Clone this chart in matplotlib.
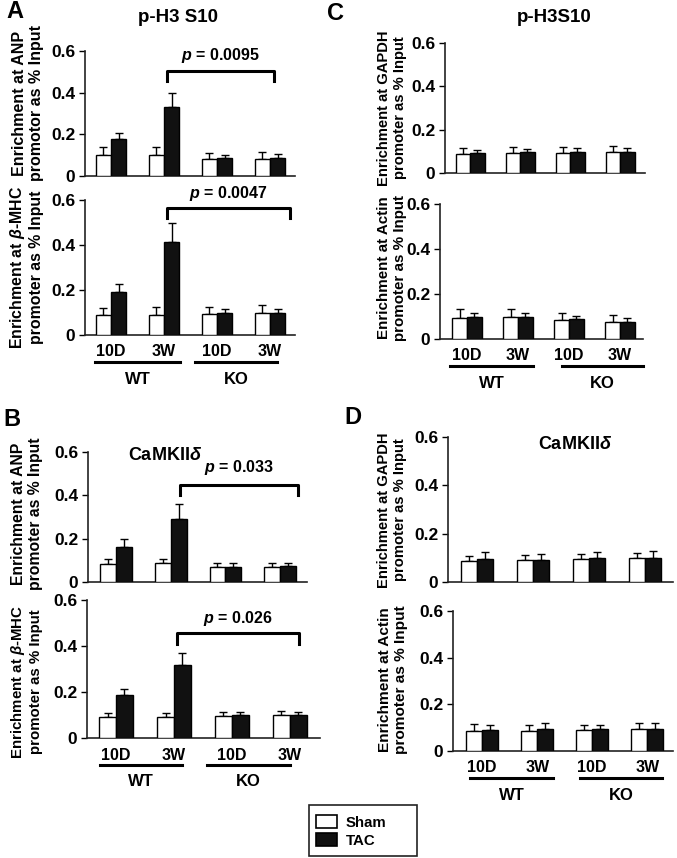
import matplotlib
matplotlib.use("Agg")
import matplotlib.pyplot as plt
import numpy as np
from matplotlib.patches import Patch, Rectangle
from matplotlib.transforms import offset_copy

plt.rcParams['font.family'] = ['Liberation Sans', 'DejaVu Sans']
plt.rcParams['font.weight'] = 'bold'
plt.rcParams['mathtext.fontset'] = 'custom'
plt.rcParams['mathtext.rm'] = 'Liberation Sans:bold'
plt.rcParams['mathtext.it'] = 'Liberation Sans:italic:bold'
plt.rcParams['mathtext.bf'] = 'Liberation Sans:bold'

# groups along the x axis
time_labels = ['10D', '3W', '10D', '3W']
genotypes = ['WT', 'KO']

# panel A, p-H3 S10
a_anp_sham = [0.100, 0.100, 0.080, 0.082]
a_anp_sham_err = [0.037, 0.040, 0.029, 0.032]
a_anp_tac = [0.176, 0.333, 0.088, 0.088]
a_anp_tac_err = [0.032, 0.064, 0.014, 0.018]
a_mhc_sham = [0.089, 0.089, 0.092, 0.096]
a_mhc_sham_err = [0.032, 0.034, 0.034, 0.036]
a_mhc_tac = [0.190, 0.415, 0.099, 0.099]
a_mhc_tac_err = [0.037, 0.081, 0.018, 0.018]

# panel B, CaMKII delta
b_anp_sham = [0.083, 0.086, 0.068, 0.071]
b_anp_sham_err = [0.022, 0.020, 0.018, 0.018]
b_anp_tac = [0.163, 0.291, 0.071, 0.072]
b_anp_tac_err = [0.037, 0.068, 0.015, 0.017]
b_mhc_sham = [0.090, 0.093, 0.096, 0.099]
b_mhc_sham_err = [0.017, 0.017, 0.018, 0.020]
b_mhc_tac = [0.187, 0.317, 0.100, 0.100]
b_mhc_tac_err = [0.026, 0.051, 0.014, 0.014]

# panel C, p-H3S10 control promoters
c_gapdh_sham = [0.088, 0.091, 0.094, 0.097]
c_gapdh_sham_err = [0.029, 0.029, 0.028, 0.029]
c_gapdh_tac = [0.094, 0.095, 0.098, 0.098]
c_gapdh_tac_err = [0.014, 0.015, 0.017, 0.017]
c_actin_sham = [0.092, 0.098, 0.084, 0.076]
c_actin_sham_err = [0.040, 0.036, 0.032, 0.031]
c_actin_tac = [0.097, 0.098, 0.089, 0.076]
c_actin_tac_err = [0.017, 0.016, 0.015, 0.016]

# panel D, CaMKII delta control promoters
d_gapdh_sham = [0.086, 0.089, 0.095, 0.098]
d_gapdh_sham_err = [0.022, 0.021, 0.019, 0.021]
d_gapdh_tac = [0.096, 0.093, 0.101, 0.101]
d_gapdh_tac_err = [0.027, 0.024, 0.025, 0.027]
d_actin_sham = [0.085, 0.087, 0.089, 0.093]
d_actin_sham_err = [0.030, 0.026, 0.024, 0.025]
d_actin_tac = [0.092, 0.096, 0.093, 0.096]
d_actin_tac_err = [0.021, 0.022, 0.020, 0.022]

W, H = 677, 858
fig = plt.figure(figsize=(W / 100, H / 100), dpi=100)
fig.patch.set_facecolor('white')

BAR_W = 0.29
TAC_COLOR = '#111111'


def px_axes(left, right, top, zero):
    return fig.add_axes([left / W, 1 - zero / H, (right - left) / W, (zero - top) / H])


def draw_bars(ax, sham, sham_err, tac, tac_err, xlim, ylabel, lsize, label_pos):
    x = np.arange(len(sham))
    ax.bar(x - BAR_W / 2, sham, BAR_W, color='white', edgecolor='black', linewidth=1.0, zorder=3)
    ax.bar(x + BAR_W / 2, tac, BAR_W, color=TAC_COLOR, edgecolor='black', linewidth=1.0, zorder=3)
    ax.errorbar(x - BAR_W / 2, sham, yerr=[np.zeros(len(sham)), sham_err], fmt='none',
                ecolor='black', elinewidth=1.0, capsize=3, capthick=1.0, zorder=2)
    ax.errorbar(x + BAR_W / 2, tac, yerr=[np.zeros(len(tac)), tac_err], fmt='none',
                ecolor='black', elinewidth=1.0, capsize=3, capthick=1.0, zorder=2)
    ax.set_xlim(*xlim)
    ax.set_ylim(0, 0.6)
    ax.set_yticks([0, 0.2, 0.4, 0.6])
    ax.set_yticklabels(['0', '0.2', '0.4', '0.6'], fontsize=12.5, fontweight='bold')
    ax.set_xticks([])
    ax.tick_params(axis='y', direction='out', length=4, width=1.0, pad=3)
    for s in ['top', 'right']:
        ax.spines[s].set_visible(False)
    for s in ['left', 'bottom']:
        ax.spines[s].set_linewidth(1.2)
        ax.spines[s].set_color('#222222')
    ax.set_ylabel(ylabel, fontsize=lsize, fontweight='bold', linespacing=1.15)
    # label_pos: right edge and vertical centre of the label block, in pixels
    ax.yaxis.set_label_coords(label_pos[0] / W, 1 - label_pos[1] / H, transform=fig.transFigure)


def bracket(ax, x1, x2, ytop, yleg, label, ytext):
    ax.plot([x1, x1, x2, x2], [yleg, ytop, ytop, yleg], color='black', lw=2.2,
            solid_joinstyle='round', clip_on=False, zorder=4)
    ax.text((x1 + x2) / 2, ytext, label, ha='center', va='center', fontsize=11.5,
            fontweight='bold', clip_on=False)


def group_labels(ax, wt_span, ko_span):
    tr = ax.get_xaxis_transform()
    t_time = offset_copy(tr, fig=fig, y=-17, units='dots')
    t_line = offset_copy(tr, fig=fig, y=-27, units='dots')
    t_geno = offset_copy(tr, fig=fig, y=-44, units='dots')
    for i, lab in enumerate(time_labels):
        ax.text(i, 0, lab, transform=t_time, ha='center', va='center', fontsize=11.5, fontweight='bold')
    for span, geno in zip([wt_span, ko_span], genotypes):
        ax.plot(span, [0, 0], transform=t_line, color='black', lw=2.2, clip_on=False)
        ax.text(sum(span) / 2, 0, geno, transform=t_geno, ha='center', va='center',
                fontsize=12, fontweight='bold')


anp_lab = 'Enrichment at ANP\npromotor as % Input'
anp_lab2 = 'Enrichment at ANP\npromoter as % Input'
mhc_lab = 'Enrichment at $\\beta$-MHC\npromoter as % Input'
gapdh_lab = 'Enrichment at GAPDH\npromoter as % Input'
actin_lab = 'Enrichment at Actin\npromoter as % Input'

# panel A
ax = px_axes(85, 295, 51, 176)
draw_bars(ax, a_anp_sham, a_anp_sham_err, a_anp_tac, a_anp_tac_err, (-0.49, 3.47), anp_lab, 11.5, (44, 103))
bracket(ax, 1.06, 3.08, 0.504, 0.456, '$p$ = 0.0095', 0.58)

ax = px_axes(85, 295, 200, 335)
draw_bars(ax, a_mhc_sham, a_mhc_sham_err, a_mhc_tac, a_mhc_tac_err, (-0.49, 3.47), mhc_lab, 11.4, (44, 267))
bracket(ax, 1.06, 3.38, 0.564, 0.52, '$p$ = 0.0047', 0.63)
group_labels(ax, (-0.3, 1.3), (1.58, 3.13))

# panel B
ax = px_axes(88, 307, 452, 582)
draw_bars(ax, b_anp_sham, b_anp_sham_err, b_anp_tac, b_anp_tac_err, (-0.51, 3.49), anp_lab2, 11.3, (43, 514))
bracket(ax, 1.17, 3.33, 0.448, 0.40, '$p$ = 0.033', 0.53)
ax.text(0.35, 0.97, 'CaMKII$\\delta$', transform=ax.transAxes, ha='center', va='center',
        fontsize=13, fontweight='bold')

ax = px_axes(87, 320, 600, 738)
draw_bars(ax, b_mhc_sham, b_mhc_sham_err, b_mhc_tac, b_mhc_tac_err, (-0.5, 3.52), mhc_lab, 10.8, (43, 682))
bracket(ax, 1.05, 3.16, 0.458, 0.41, '$p$ = 0.026', 0.52)
group_labels(ax, (-0.28, 1.14), (1.57, 3.0))

# panel C
ax = px_axes(445, 645, 43, 173)
draw_bars(ax, c_gapdh_sham, c_gapdh_sham_err, c_gapdh_tac, c_gapdh_tac_err, (-0.5, 3.5), gapdh_lab, 10.6, (407, 108))

ax = px_axes(440, 643, 204, 339)
draw_bars(ax, c_actin_sham, c_actin_sham_err, c_actin_tac, c_actin_tac_err, (-0.53, 3.45), actin_lab, 10.9, (407, 268))
group_labels(ax, (-0.33, 1.29), (1.86, 3.45))

# panel D
ax = px_axes(448, 673, 437, 582)
draw_bars(ax, d_gapdh_sham, d_gapdh_sham_err, d_gapdh_tac, d_gapdh_tac_err, (-0.52, 3.5), gapdh_lab, 10.6, (407, 510))
ax.text(0.565, 0.95, 'CaMKII$\\delta$', transform=ax.transAxes, ha='center', va='center',
        fontsize=13, fontweight='bold')

ax = px_axes(453, 673, 611, 751)
draw_bars(ax, d_actin_sham, d_actin_sham_err, d_actin_tac, d_actin_tac_err, (-0.53, 3.47), actin_lab, 11.1, (408, 680))
group_labels(ax, (-0.22, 1.29), (1.78, 3.27))

# titles and panel letters
fig.text(178 / W, 1 - 17 / H, 'p-H3 S10', ha='center', va='center', fontsize=13.5, fontweight='bold')
fig.text(554 / W, 1 - 17 / H, 'p-H3S10', ha='center', va='center', fontsize=13.5, fontweight='bold')
for letter, (px, py) in zip('ABCD', [(15, 12), (12, 419), (335, 13), (353, 417)]):
    fig.text(px / W, 1 - py / H, letter, ha='center', va='center', fontsize=17, fontweight='bold')

# legend
fig.patches.append(Rectangle((309 / W, 1 - 856 / H), 108 / W, 51 / H, transform=fig.transFigure,
                             facecolor='white', edgecolor='#222222', lw=1.2, zorder=1))
handles = [Patch(facecolor='white', edgecolor='black', lw=1.2),
           Patch(facecolor=TAC_COLOR, edgecolor='black', lw=1.2)]
leg = fig.legend(handles, ['Sham', 'TAC'], loc='center left',
                 bbox_to_anchor=(316 / W, 1 - 831.5 / H), frameon=False, fontsize=10.8,
                 handlelength=1.4, handleheight=0.9, handletextpad=0.6, labelspacing=0.25,
                 borderpad=0.0, borderaxespad=0.0)
for t in leg.get_texts():
    t.set_fontweight('bold')

fig.savefig('out.png', dpi=100, facecolor='white')
